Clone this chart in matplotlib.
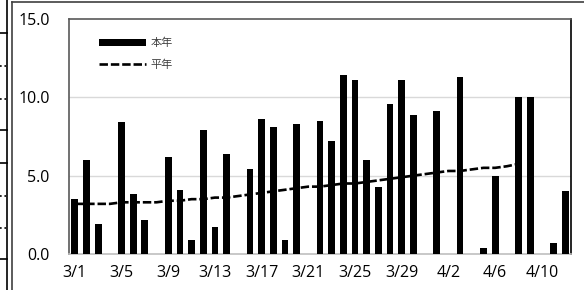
import matplotlib.pyplot as plt
import numpy as np
from matplotlib.lines import Line2D

plt.rcParams['font.family'] = ['Open Sans', 'Noto Sans CJK JP', 'DejaVu Sans']

# 3/1 .. 4/12
dias = ['3/%d' % d for d in range(1, 32)] + ['4/%d' % d for d in range(1, 13)]

honnen = [3.5, 6.0, 1.9, 0.0, 8.4, 3.8, 2.2, 0.0, 6.2, 4.1,
          0.9, 7.9, 1.7, 6.4, 0.0, 5.4, 8.6, 8.1, 0.9, 8.3,
          0.0, 8.5, 7.2, 11.4, 11.1, 6.0, 4.3, 9.6, 11.1, 8.9,
          0.0, 9.1, 0.0, 11.3, 0.0, 0.4, 5.0, 0.0, 10.0, 10.0,
          0.0, 0.7, 4.0]

heinen = [3.2, 3.2, 3.2, 3.2, 3.3, 3.3, 3.3, 3.3, 3.4, 3.4,
          3.5, 3.5, 3.6, 3.6, 3.7, 3.8, 3.9, 4.0, 4.1, 4.2,
          4.3, 4.3, 4.4, 4.5, 4.5, 4.6, 4.7, 4.8, 4.9, 5.0,
          5.1, 5.2, 5.3, 5.3, 5.4, 5.5, 5.5, 5.6, 5.75]

W, H = 584, 290
fig = plt.figure(figsize=(W/100, H/100), dpi=100)

def fx(p):
    return p/W

def fy(p):
    return 1 - p/H

ax = fig.add_axes([fx(69), fy(254), fx(571) - fx(69), fy(19) - fy(254)])

x = np.arange(len(dias))
barras = ax.bar(x, honnen, width=0.58, color='black', label='本年', zorder=3)
linha, = ax.plot(np.arange(len(heinen)), heinen, color='black', lw=1.9,
                 dashes=(3.2, 1.1), label='平年', zorder=4)

ax.set_xlim(-0.5, len(dias) - 0.5)
ax.set_ylim(0, 15)
ax.set_yticks([0, 5, 10, 15])
ax.set_yticklabels(['0.0', '5.0', '10.0', '15.0'])
ax.set_xticks(x[::4])
ax.set_xticklabels(dias[::4])
ax.tick_params(axis='both', length=0, labelsize=11.5, colors='black')
ax.tick_params(axis='y', pad=14)
ax.tick_params(axis='x', pad=8)

for v in [5, 10]:
    ax.axhline(v, color='#d9d9d9', lw=1, zorder=1)

ax.spines['top'].set_color('#595959')
ax.spines['left'].set_color('#595959')
ax.spines['right'].set_color('black')
ax.spines['bottom'].set_color('#bfbfbf')
for s in ax.spines.values():
    s.set_linewidth(1.2)

leg = ax.legend([barras, linha], ['本年', '平年'], loc='upper left',
                bbox_to_anchor=(0.04, 0.96), frameon=False,
                fontsize=8, handlelength=4.2, handleheight=0.55,
                labelspacing=0.95, handletextpad=0.45)
for t in leg.get_texts():
    t.set_color('#404040')

# outer frame of the pasted chart and table bits at the left
fig.add_artist(Line2D([fx(12), fx(W)], [fy(2), fy(2)], color='#404040', lw=1.2))
fig.add_artist(Line2D([fx(12), fx(12)], [fy(2), fy(H)], color='#404040', lw=1.2))
fig.add_artist(Line2D([fx(7), fx(7)], [fy(0), fy(H)], color='black', lw=1.2))
for yy in [33, 130, 163, 259]:
    fig.add_artist(Line2D([0, fx(7)], [fy(yy), fy(yy)], color='black', lw=1.2))
for yy in [66, 99, 196, 228]:
    fig.add_artist(Line2D([0, fx(7)], [fy(yy), fy(yy)], color='black', lw=1.2,
                          ls=':'))

plt.savefig('out.png', dpi=100)
